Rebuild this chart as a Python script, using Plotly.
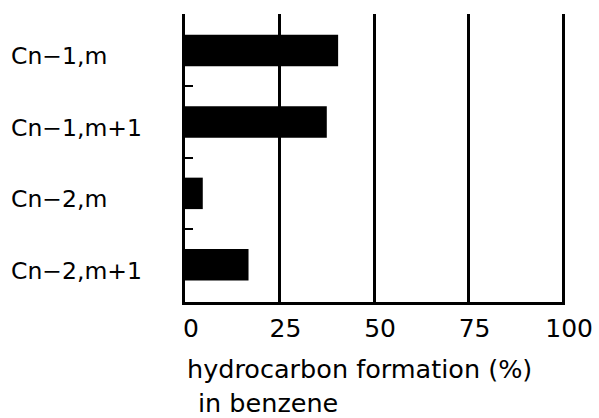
import plotly.graph_objects as go

categories = ["Cn\u22121,m", "Cn\u22121,m+1", "Cn\u22122,m", "Cn\u22122,m+1"]
values = [40.5, 37.5, 4.7, 16.8]
x_ticks = [0, 25, 50, 75, 100]
x_title_lines = ["hydrocarbon formation (%)", "in benzene"]

FONT = "DejaVu Sans"

fig = go.Figure(go.Bar(
    y=categories, x=values, orientation="h",
    marker=dict(color="black", line=dict(width=0)),
    width=0.44,
))

annotations = []
for c in categories:
    annotations.append(dict(
        text=c, xref="paper", yref="y", x=-0.462, y=c,
        xanchor="left", yanchor="middle", showarrow=False, yshift=-6,
        font=dict(size=23.5),
    ))
annotations.append(dict(text=x_title_lines[0], xref="paper", yref="paper", x=0.0, y=-0.231,
                        xanchor="left", yanchor="middle", showarrow=False, align="left",
                        font=dict(size=25.5)))
annotations.append(dict(text=x_title_lines[1], xref="paper", yref="paper", x=0.03, y=-0.35,
                        xanchor="left", yanchor="middle", showarrow=False, align="left",
                        font=dict(size=25.5)))

boundaries = [i - 0.5 for i in range(len(categories))]

fig.update_layout(
    width=599, height=418,
    margin=dict(l=185, r=34, t=14, b=116),
    paper_bgcolor="white", plot_bgcolor="white",
    showlegend=False,
    font=dict(family=FONT, color="black", size=25),
    xaxis=dict(
        range=[0, 100.5], tickvals=x_ticks, ticktext=[str(v) for v in x_ticks],
        showgrid=True, gridcolor="black", gridwidth=3,
        showline=True, linecolor="black", linewidth=3,
        ticks="", zeroline=False, tickfont=dict(size=25),
        ticklabelstandoff=2, ticklabelshift=6, automargin=False,
    ),
    yaxis=dict(
        type="category", categoryorder="array", categoryarray=categories,
        range=[3.52, -0.51], showline=True, linecolor="black", linewidth=3,
        ticks="inside", tickmode="array", tickvals=boundaries, ticktext=["" for _ in boundaries],
        ticklen=8, tickwidth=2, tickcolor="black",
        showgrid=False, showticklabels=False, automargin=False,
    ),
    annotations=annotations,
)

fig.write_html("out.html")
